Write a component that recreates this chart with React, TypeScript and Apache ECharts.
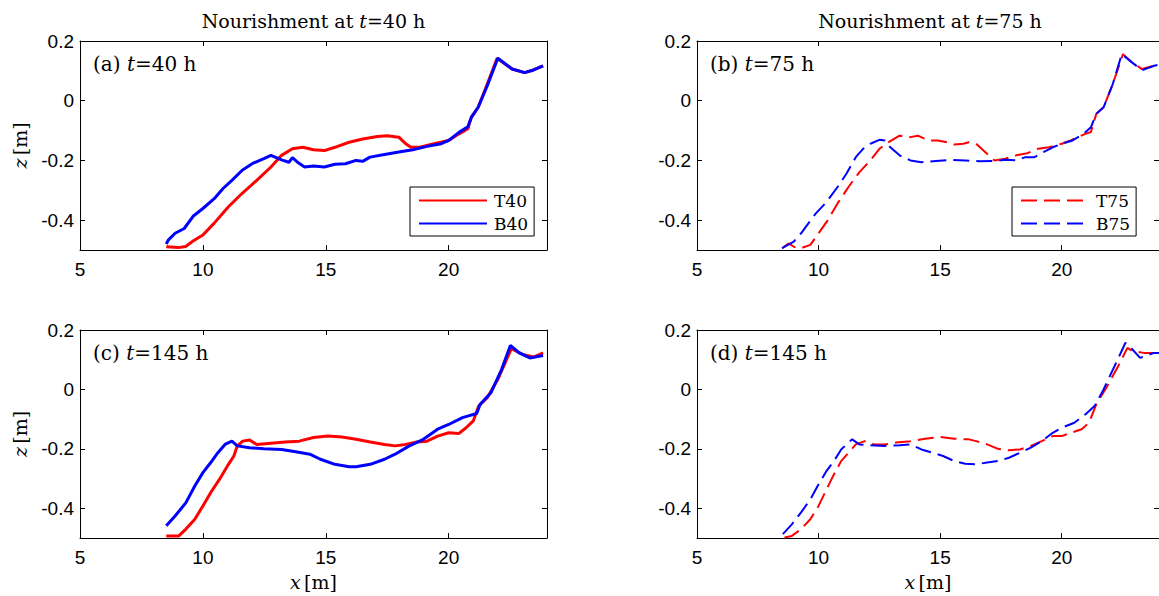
import React, { useEffect, useRef } from "react";
import * as echarts from "echarts";

// ---- data (x [m], z [m]) ----
const T40: number[][] = [
  [8.51, -0.489], [9.0, -0.492], [9.3, -0.488], [9.6, -0.47], [10.0, -0.45], [10.46, -0.41], [11.04, -0.355],
  [11.6, -0.31], [12.19, -0.267], [12.77, -0.222], [13.2, -0.183], [13.64, -0.161], [14.07, -0.156],
  [14.5, -0.164], [14.94, -0.167], [15.37, -0.156], [15.95, -0.139], [16.5, -0.128], [17.1, -0.12],
  [17.5, -0.117], [17.97, -0.122], [18.25, -0.144], [18.47, -0.156], [18.83, -0.156], [19.4, -0.144],
  [20.0, -0.133], [20.42, -0.111], [20.78, -0.094], [20.92, -0.056], [21.2, -0.022], [21.57, 0.056],
  [21.97, 0.142], [22.58, 0.106], [23.09, 0.094], [23.45, 0.103], [23.84, 0.117],
];
const B40: number[][] = [
  [8.51, -0.48], [8.59, -0.467], [8.87, -0.444], [9.24, -0.428], [9.6, -0.387], [10.0, -0.361],
  [10.46, -0.328], [10.82, -0.294], [11.18, -0.267], [11.6, -0.233], [12.05, -0.209], [12.48, -0.194],
  [12.77, -0.183], [13.2, -0.198], [13.5, -0.206], [13.64, -0.191], [13.85, -0.206], [14.14, -0.222],
  [14.5, -0.219], [14.94, -0.222], [15.37, -0.213], [15.8, -0.211], [16.23, -0.2], [16.5, -0.203],
  [16.8, -0.189], [17.39, -0.18], [17.97, -0.172], [18.54, -0.164], [19.12, -0.153], [19.7, -0.144],
  [20.0, -0.133], [20.42, -0.106], [20.78, -0.087], [20.92, -0.056], [21.2, -0.022], [21.57, 0.05],
  [22.0, 0.142], [22.58, 0.106], [23.09, 0.094], [23.45, 0.103], [23.84, 0.117],
];
const T75: number[][] = [
  [8.5, -0.494], [8.76, -0.478], [9.0, -0.49], [9.28, -0.494], [9.66, -0.483], [10.0, -0.444],
  [10.33, -0.406], [10.78, -0.344], [11.23, -0.289], [11.68, -0.239], [12.13, -0.2], [12.5, -0.161],
  [12.88, -0.139], [13.33, -0.117], [13.78, -0.122], [14.08, -0.117], [14.53, -0.133], [14.9, -0.133],
  [15.28, -0.139], [15.58, -0.147], [15.95, -0.144], [16.18, -0.139], [16.48, -0.144], [16.78, -0.167],
  [17.08, -0.189], [17.23, -0.2], [17.68, -0.194], [18.13, -0.183], [18.58, -0.176], [19.03, -0.161],
  [19.48, -0.156], [20.0, -0.144], [20.37, -0.133], [20.97, -0.111], [21.2, -0.105], [21.42, -0.044],
  [21.72, -0.022], [22.1, 0.056], [22.52, 0.156], [22.85, 0.131], [23.3, 0.106], [23.8, 0.117], [24.2, 0.125],
];
const B75: number[][] = [
  [8.5, -0.494], [8.98, -0.472], [9.28, -0.444], [9.58, -0.411], [9.88, -0.378], [10.33, -0.339],
  [10.78, -0.289], [11.15, -0.244], [11.53, -0.189], [11.83, -0.161], [12.13, -0.144], [12.5, -0.131],
  [12.73, -0.133], [12.95, -0.156], [13.33, -0.183], [13.78, -0.2], [14.23, -0.206], [14.83, -0.202],
  [15.43, -0.198], [16.03, -0.2], [16.63, -0.203], [17.23, -0.202], [17.68, -0.198], [18.13, -0.2],
  [18.5, -0.189], [18.88, -0.189], [19.25, -0.172], [19.63, -0.156], [20.0, -0.144], [20.45, -0.133],
  [20.9, -0.111], [21.2, -0.089], [21.42, -0.044], [21.72, -0.022], [22.1, 0.056], [22.47, 0.156],
  [22.85, 0.131], [23.3, 0.102], [23.8, 0.117], [24.2, 0.125],
];
const T145c: number[][] = [
  [8.51, -0.493], [9.02, -0.493], [9.31, -0.47], [9.67, -0.437], [10.0, -0.392], [10.32, -0.347],
  [10.68, -0.302], [11.04, -0.252], [11.26, -0.224], [11.4, -0.19], [11.62, -0.174], [11.9, -0.17],
  [12.19, -0.185], [12.77, -0.181], [13.35, -0.177], [13.92, -0.174], [14.5, -0.162], [15.08, -0.157],
  [15.66, -0.16], [16.23, -0.168], [16.81, -0.177], [17.39, -0.185], [17.82, -0.19], [18.25, -0.185],
  [18.69, -0.177], [19.12, -0.174], [19.55, -0.157], [20.0, -0.146], [20.42, -0.148], [20.71, -0.129],
  [21.0, -0.106], [21.22, -0.056], [21.57, -0.028], [22.0, 0.034], [22.55, 0.137], [23.01, 0.118],
  [23.45, 0.109], [23.84, 0.123],
];
const B145c: number[][] = [
  [8.51, -0.459], [8.87, -0.426], [9.31, -0.381], [9.67, -0.325], [10.0, -0.28], [10.32, -0.246],
  [10.61, -0.213], [10.9, -0.185], [11.18, -0.174], [11.4, -0.19], [11.9, -0.196], [12.48, -0.2],
  [13.2, -0.202], [13.78, -0.21], [14.35, -0.218], [14.78, -0.235], [15.37, -0.252], [15.95, -0.26],
  [16.23, -0.26], [16.81, -0.252], [17.39, -0.235], [17.82, -0.218], [18.4, -0.19], [18.97, -0.168],
  [19.55, -0.134], [20.0, -0.118], [20.56, -0.095], [21.14, -0.081], [21.28, -0.05], [21.72, -0.011],
  [22.15, 0.067], [22.51, 0.148], [22.87, 0.123], [23.3, 0.106], [23.84, 0.114],
];
const T145d: number[][] = [
  [8.6, -0.498], [8.9, -0.493], [9.28, -0.47], [9.66, -0.437], [10.0, -0.392], [10.33, -0.336],
  [10.63, -0.286], [10.93, -0.241], [11.23, -0.213], [11.53, -0.185], [11.9, -0.174], [12.28, -0.185],
  [12.73, -0.185], [13.18, -0.179], [13.78, -0.174], [14.38, -0.166], [14.98, -0.16], [15.58, -0.166],
  [16.18, -0.168], [16.48, -0.174], [16.93, -0.185], [17.38, -0.2], [17.83, -0.205], [18.28, -0.202],
  [18.73, -0.19], [19.18, -0.174], [19.63, -0.157], [20.0, -0.157], [20.37, -0.146], [20.82, -0.134],
  [21.12, -0.112], [21.42, -0.05], [21.87, 0.011], [22.32, 0.078], [22.7, 0.14], [22.92, 0.129],
  [23.37, 0.123], [23.8, 0.123], [24.2, 0.123],
];
const B145d: number[][] = [
  [8.53, -0.487], [8.9, -0.454], [9.28, -0.414], [9.66, -0.37], [10.0, -0.319], [10.33, -0.274],
  [10.63, -0.241], [10.93, -0.202], [11.23, -0.179], [11.38, -0.168], [11.68, -0.185], [12.13, -0.188],
  [12.73, -0.19], [13.33, -0.188], [13.78, -0.185], [14.23, -0.202], [14.68, -0.213], [15.12, -0.224],
  [15.58, -0.241], [16.03, -0.25], [16.48, -0.252], [16.93, -0.246], [17.38, -0.241], [17.83, -0.23],
  [18.28, -0.213], [18.73, -0.196], [19.18, -0.174], [19.63, -0.146], [20.0, -0.129], [20.52, -0.112],
  [20.97, -0.084], [21.35, -0.056], [21.72, 0.0], [22.17, 0.078], [22.62, 0.157], [22.85, 0.14],
  [23.22, 0.106], [23.8, 0.123], [24.2, 0.123],
];

const X_TICKS = [5, 10, 15, 20];
const Y_TICKS = [-0.4, -0.2, 0, 0.2];
const X_MIN = 5;
const X_MAX = 24;
const Y_MIN = -0.5;
const Y_MAX = 0.2;

const PANEL_TITLES = ["Nourishment at ", "Nourishment at "];
const TITLE_T = ["=40 h", "=75 h"];
const PANEL_LABELS = [
  ["(a) ", "=40 h"],
  ["(b) ", "=75 h"],
  ["(c) ", "=145 h"],
  ["(d) ", "=145 h"],
];

const RED = "#ff0000";
const BLUE = "#0000ff";
const SERIF = "DejaVu Serif";
const SANS = "Liberation Sans";

const GRIDS = [
  { left: 80, top: 41, width: 467, height: 209 },
  { left: 697, top: 41, width: 466, height: 209 },
  { left: 80, top: 330, width: 467, height: 208 },
  { left: 697, top: 330, width: 466, height: 208 },
];

function richSerif(size: number) {
  return {
    r: { fontFamily: SERIF, fontSize: size, color: "#000" },
    i: { fontFamily: SERIF, fontSize: size, fontStyle: "italic", color: "#000" },
  };
}

export default function App() {
  const ref = useRef<HTMLDivElement>(null);
  useEffect(() => {
    if (!ref.current) return;
    const chart = echarts.init(ref.current, undefined, { renderer: "svg" });

    const xAxis: any[] = [];
    const yAxis: any[] = [];
    GRIDS.forEach((_, g) => {
      const bottomRow = g >= 2;
      xAxis.push({
        type: "value",
        gridIndex: g,
        min: X_MIN,
        max: X_MAX,
        position: "bottom",
        axisLine: { show: true, onZero: false, lineStyle: { color: "#000", width: 1 } },
        axisTick: { show: true, inside: true, length: 5, customValues: X_TICKS, lineStyle: { color: "#000" } },
        axisLabel: { customValues: X_TICKS, color: "#000", fontFamily: SANS, fontSize: 19, margin: 10 },
        splitLine: { show: false },
        name: bottomRow ? "{i|x} {r|[m]}" : "",
        nameLocation: "middle",
        nameGap: 34,
        nameTextStyle: { rich: richSerif(19) },
      });
      xAxis.push({
        type: "value",
        gridIndex: g,
        min: X_MIN,
        max: X_MAX,
        position: "top",
        axisLine: { show: true, onZero: false, lineStyle: { color: "#000", width: 1 } },
        axisTick: { show: true, inside: true, length: 5, customValues: X_TICKS, lineStyle: { color: "#000" } },
        axisLabel: { show: false },
        splitLine: { show: false },
      });
      const leftCol = g % 2 === 0;
      yAxis.push({
        type: "value",
        gridIndex: g,
        min: Y_MIN,
        max: Y_MAX,
        position: "left",
        axisLine: { show: true, onZero: false, lineStyle: { color: "#000", width: 1 } },
        axisTick: { show: true, inside: true, length: 5, customValues: Y_TICKS, lineStyle: { color: "#000" } },
        axisLabel: { customValues: Y_TICKS, color: "#000", fontFamily: SANS, fontSize: 19, margin: 6 },
        splitLine: { show: false },
        name: leftCol ? "{i|z} {r|[m]}" : "",
        nameLocation: "middle",
        nameRotate: 90,
        nameGap: 51,
        nameTextStyle: { rich: richSerif(19) },
      });
      yAxis.push({
        type: "value",
        gridIndex: g,
        min: Y_MIN,
        max: Y_MAX,
        position: "right",
        axisLine: { show: true, onZero: false, lineStyle: { color: "#000", width: 1 } },
        axisTick: { show: true, inside: true, length: 5, customValues: Y_TICKS, lineStyle: { color: "#000" } },
        axisLabel: { show: false },
        splitLine: { show: false },
      });
    });

    const mk = (name: string, data: number[][], g: number, color: string, dashed: boolean) => ({
      type: "line",
      name,
      xAxisIndex: g * 2,
      yAxisIndex: g * 2,
      data,
      symbol: "none",
      showSymbol: false,
      clip: true,
      lineStyle: dashed ? { color, width: 2, type: [16, 7] } : { color, width: 3, type: "solid" },
      itemStyle: { color },
    });

    const series = [
      mk("T40", T40, 0, RED, false),
      mk("B40", B40, 0, BLUE, false),
      mk("T75", T75, 1, RED, true),
      mk("B75", B75, 1, BLUE, true),
      mk("T145 (c)", T145c, 2, RED, false),
      mk("B145 (c)", B145c, 2, BLUE, false),
      mk("T145 (d)", T145d, 3, RED, true),
      mk("B145 (d)", B145d, 3, BLUE, true),
    ];

    const legendBase = {
      orient: "vertical",
      top: 187,
      borderColor: "#000",
      borderWidth: 1,
      backgroundColor: "#fff",
      padding: [5, 6, 4, 8],
      itemWidth: 68,
      itemHeight: 14,
      itemGap: 6,
      selectedMode: false,
      itemStyle: { opacity: 0 },
      textStyle: { fontFamily: SERIF, fontSize: 17, color: "#000", padding: [0, 0, 0, 2] },
    };

    const graphic: any[] = [];
    [0, 1].forEach((c) => {
      const gr = GRIDS[c];
      graphic.push({
        type: "text",
        x: gr.left + gr.width / 2,
        y: 21,
        style: {
          text: `{r|${PANEL_TITLES[c]}}{i|t}{r|${TITLE_T[c]}}`,
          align: "center",
          verticalAlign: "middle",
          rich: {
            r: { fontFamily: SERIF, fontSize: 19, fill: "#000" },
            i: { fontFamily: SERIF, fontSize: 19, fontStyle: "italic", fill: "#000" },
          },
        },
      });
    });
    GRIDS.forEach((gr, g) => {
      graphic.push({
        type: "text",
        x: gr.left + 13,
        y: gr.top + 23,
        style: {
          text: `{r|${PANEL_LABELS[g][0]}}{i|t}{r|${PANEL_LABELS[g][1]}}`,
          align: "left",
          verticalAlign: "middle",
          rich: {
            r: { fontFamily: SERIF, fontSize: 20, fill: "#000" },
            i: { fontFamily: SERIF, fontSize: 20, fontStyle: "italic", fill: "#000" },
          },
        },
      });
    });

    chart.setOption({
      animation: false,
      backgroundColor: "#fff",
      grid: GRIDS.map((g) => ({ ...g, containLabel: false })),
      xAxis,
      yAxis,
      legend: [
        { ...legendBase, left: 410, data: ["T40", "B40"] },
        { ...legendBase, left: 1012, data: ["T75", "B75"] },
      ],
      series,
      graphic,
    });
    return () => chart.dispose();
  }, []);

  return (
    <div
      ref={ref}
      style={{ position: "absolute", left: 0, top: 0, width: 1159, height: 596, background: "#fff" }}
    />
  );
}
